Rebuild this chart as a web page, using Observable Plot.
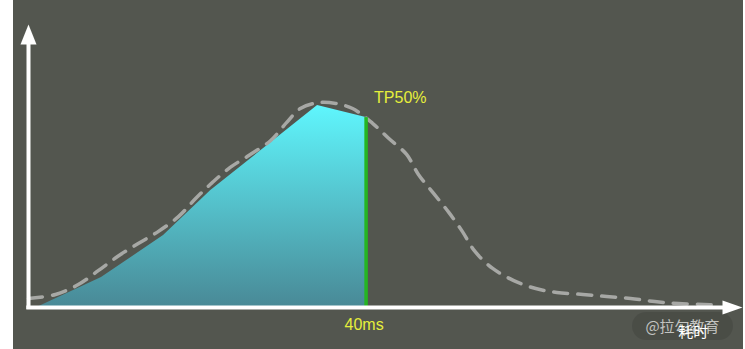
<!DOCTYPE html>
<html>
<head>
<meta charset="utf-8">
<script src="https://cdn.jsdelivr.net/npm/d3@7"></script>
<script src="https://cdn.jsdelivr.net/npm/@observablehq/plot@0.6"></script>
<style>
  html, body { margin: 0; padding: 0; background: #ffffff; }
  #panel { position: absolute; left: 13px; top: 0; width: 730px; height: 349px; background: #53564f; overflow: hidden; }
  #badge { position: absolute; left: 619px; top: 312px; width: 101px; height: 28px; border-radius: 14px;
           background: rgba(0, 0, 0, 0.1); color: #c3c4c1; font: 15px "Noto Sans CJK SC", sans-serif;
           line-height: 28px; text-align: center; }
  #chart { position: absolute; left: 0; top: 0; }
</style>
</head>
<body>
<div id="panel">
  <div id="badge">@拉勾教育</div>
  <div id="chart"></div>
</div>
<script>
// Requests answered up to the TP50 point (filled area)
const areaMs    = [1.0, 8.65, 16.0, 21.6, 34.25, 40];
const areaCount = [0, 10.6, 25.4, 41.3, 71.4, 67.1];

// Full latency distribution (dashed curve)
const curveMs    = [0, 3.2, 5.9, 8.3, 10.55, 13.0, 15.4, 17.8, 19.8, 21.8, 23.9, 26.1, 28.7, 30.6, 32.2, 34.4, 36.4, 38.4,
                    40.8, 42.7, 44.8, 46.2, 48.0, 49.8, 51.4, 52.9, 55.0, 57.5, 60.1, 62.6, 65.7, 68.5, 71.35, 74.2, 77.0, 80.0, 82.0];
const curveCount = [3.2, 4.6, 8.1, 13.1, 18.0, 22.6, 26.9, 32.2, 38.5, 44.2, 49.5, 53.7, 59.0, 65.4, 70.3, 72.4, 72.1, 70.3,
                    65.0, 59.7, 54.1, 47.0, 40.3, 33.6, 26.9, 19.8, 13.8, 9.5, 6.7, 5.3, 4.6, 3.9, 3.2, 2.1, 1.4, 1.1, 0.7];

// Labels
const markerLabel = "TP50%";
const tickValues  = [40];
const tickLabels  = ["40ms"];
const xAxisLabel  = "耗时";

const areaRows  = areaMs.map((ms, i) => ({ms, count: areaCount[i]}));
const curveRows = curveMs.map((ms, i) => ({ms, count: curveCount[i]}));
const tp50 = areaRows[areaRows.length - 1];
const ticks = tickValues.map((ms, i) => ({ms, label: tickLabels[i]}));

const xMax = 84.6, yMax = 100;
const yellow = "#e6ef3b";

// Filled triangular arrow head with its tip at the origin, pointing up
const arrowHead = (len, half) => ({
  draw(ctx) { ctx.moveTo(0, 0); ctx.lineTo(half, len); ctx.lineTo(-half, len); ctx.closePath(); }
});

// Vertical gradient for the area
const gradientDefs = () => {
  const defs = d3.create("svg:defs");
  const g = defs.append("linearGradient").attr("id", "tp50-fill")
    .attr("x1", 0).attr("y1", 0).attr("x2", 0).attr("y2", 1);
  g.append("stop").attr("offset", "0%").attr("stop-color", "#5ff6fd");
  g.append("stop").attr("offset", "100%").attr("stop-color", "#498996");
  return defs.node();
};

const chart = Plot.plot({
  width: 730,
  height: 349,
  marginLeft: 15,
  marginRight: 1,
  marginTop: 24,
  marginBottom: 42,
  x: {domain: [0, xMax], axis: null},
  y: {domain: [0, yMax], axis: null},
  style: {background: "transparent", overflow: "visible", fontFamily: "'Liberation Sans', Arial, Helvetica, sans-serif"},
  marks: [
    gradientDefs,
    Plot.areaY(areaRows, {x: "ms", y: "count", fill: "url(#tp50-fill)"}),
    Plot.line(curveRows, {x: "ms", y: "count", stroke: "#a7a8a5", strokeWidth: 3.5,
                          strokeDasharray: "14,10", curve: "catmull-rom"}),
    Plot.ruleX([tp50], {x: "ms", y1: -0.35, y2: "count", stroke: "#25b522", strokeWidth: 3.5}),
    // axes with arrow heads
    Plot.ruleY([0], {x1: -0.2, x2: 83, stroke: "#ffffff", strokeWidth: 4}),
    Plot.ruleX([0], {y1: -0.7, y2: 94, stroke: "#ffffff", strokeWidth: 4}),
    Plot.dot([{ms: 0, count: yMax}], {x: "ms", y: "count", r: 1, symbol: arrowHead(20, 8), fill: "#ffffff", stroke: null}),
    Plot.dot([{ms: xMax, count: 0}], {x: "ms", y: "count", r: 1, symbol: arrowHead(20, 7), rotate: 90, fill: "#ffffff", stroke: null}),
    // labels
    Plot.text([tp50], {x: "ms", y: "count", text: () => markerLabel, textAnchor: "start", dx: 8, dy: -20,
                       fill: yellow, fontSize: 16}),
    Plot.text(ticks, {x: "ms", y: () => 0, text: "label", dx: -2, dy: 17, fill: yellow, fontSize: 16}),
    Plot.text([{ms: 78.75, label: xAxisLabel}], {x: "ms", y: () => 0, text: "label", dy: 24.5, fill: "#ffffff",
                       fontSize: 15, fontFamily: "'Noto Sans CJK SC', sans-serif"})
  ]
});

document.getElementById("chart").appendChild(chart);
</script>
</body>
</html>
